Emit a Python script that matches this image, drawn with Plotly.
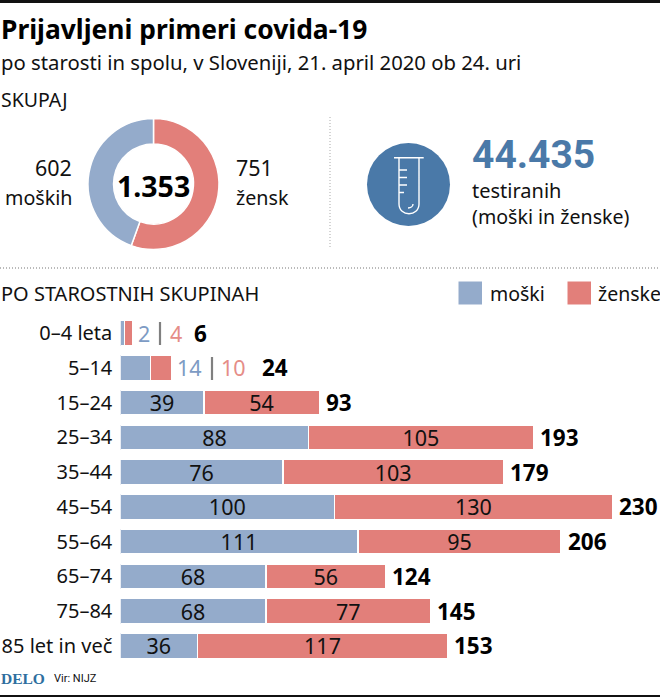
import plotly.graph_objects as go

W, H = 660, 697

age_groups = ["0–4 leta", "5–14", "15–24", "25–34", "35–44", "45–54", "55–64", "65–74", "75–84", "85 let in več"]
men = [2, 14, 39, 88, 76, 100, 111, 68, 68, 36]
women = [4, 10, 54, 105, 103, 130, 95, 56, 77, 117]
totals = [6, 24, 93, 193, 179, 230, 206, 124, 145, 153]
overall_labels = ["ženske", "moški"]
overall_values = [751, 602]
overall_total = "1.353"
tested_total = "44.435"

BLUE = "#94abcb"
RED = "#e27f7a"
DBLUE = "#4a79a8"
TXT_BLUE = "#7d9bc4"
TXT_RED = "#e58d88"
INK = "#111111"
F = "Noto Sans"
NARROW = "Roboto"


def px(x):
    return x / W


def py(y):
    return 1 - y / H


fig = go.Figure()
fig.add_trace(go.Bar(
    y=age_groups, x=men, orientation="h", name="moški",
    marker=dict(color=BLUE, line=dict(color="white", width=1.5)),
    text=[""] * 2 + [str(v) for v in men[2:]], textposition="inside", insidetextanchor="middle",
    textangle=0, constraintext="none", textfont=dict(family=F, size=21.5, color=INK), cliponaxis=False,
))
fig.add_trace(go.Bar(
    y=age_groups, x=women, orientation="h", name="ženske",
    marker=dict(color=RED, line=dict(color="white", width=1.5)),
    text=[""] * 2 + [str(v) for v in women[2:]], textposition="inside", insidetextanchor="middle",
    textangle=0, constraintext="none", textfont=dict(family=F, size=21.5, color=INK), cliponaxis=False,
))
fig.add_trace(go.Pie(
    labels=overall_labels, values=overall_values, sort=False, direction="clockwise", rotation=0,
    hole=0.61, textinfo="none", showlegend=False,
    marker=dict(colors=[RED, BLUE], line=dict(color="white", width=1.5)),
    domain=dict(x=[px(88), px(219)], y=[py(250), py(118)]),
))

annotations = []


def label(x, y, text, size=20, color=INK, anchor="left", family=F, bold=False):
    annotations.append(dict(
        x=px(x), y=py(y), xref="paper", yref="paper", showarrow=False, xanchor=anchor, yanchor="middle",
        text=f"<b>{text}</b>" if bold else text, font=dict(family=family, size=size, color=color),
        borderpad=0, align=anchor,
    ))


label(0, 29, "Prijavljeni primeri covida-19", 26.4, "#000000", bold=True)
label(0, 62, "po starosti in spolu, v Sloveniji, 21. april 2020 ob 24. uri", 20.3)
label(0, 99, "SKUPAJ", 19.5)
label(73, 168, "602", 21.5, anchor="right")
label(74, 197, "moških", 19.7, anchor="right")
label(235, 168, "751", 21.5)
label(235, 197, "žensk", 19.7)
label(153.5, 186, overall_total, 28.5, "#000000", anchor="center", bold=True)
label(471, 155, tested_total, 39, DBLUE, family=NARROW, bold=True)
label(471, 190, "testiranih", 20)
label(471, 217, "(moški in ženske)", 19.6)
label(0, 293, "PO STAROSTNIH SKUPINAH", 20)
label(489, 293, "moški", 19.5)
label(597, 293, "ženske", 19.5)
label(0, 678, "DELO", 15.5, "#2f6f9f", family="Liberation Serif", bold=True)
label(53, 678, "Vir: NIJZ", 11, family=NARROW)


def row_label(i, shift, text, color=INK, bold=False, size=21.5):
    annotations.append(dict(
        x=totals[i], y=age_groups[i], xref="x", yref="y", showarrow=False, xanchor="left", yanchor="middle",
        xshift=shift, text=f"<b>{text}</b>" if bold else text,
        font=dict(family=F, size=size, color=color),
    ))


for i in range(len(totals)):
    shift = {0: 59, 1: 88}.get(i, 4.5)
    row_label(i, shift, totals[i], "#000000", True, 22.5)
row_label(0, 3, men[0], TXT_BLUE)
row_label(0, 35, women[0], TXT_RED)
row_label(1, 3, men[1], TXT_BLUE)
row_label(1, 47, women[1], TXT_RED)


def rect(x0, x1, y0, y1, color):
    return dict(type="rect", xref="paper", yref="paper", x0=px(x0), x1=px(x1), y0=py(y1), y1=py(y0),
                fillcolor=color, line_width=0)


def line(x0, x1, y0, y1, color, width, dash="solid"):
    return dict(type="line", xref="paper", yref="paper", x0=px(x0), x1=px(x1), y0=py(y0), y1=py(y1),
                line=dict(color=color, width=width, dash=dash))


shapes = [
    rect(0, W, 0, 3, "#111111"),
    rect(0, W, 695, H, "#111111"),
    line(0, W, 268, 268, "#777777", 1.2, "1px 2px"),
    line(330, 330, 117, 249, "#aaaaaa", 1, "1px 2px"),
    rect(458.5, 482, 281.5, 304.5, BLUE),
    rect(567.5, 591, 281.5, 304.5, RED),
    line(160, 160, 322, 345, "#808080", 2.2),
    line(212, 212, 357, 380, "#808080", 2.2),
    dict(type="circle", xref="paper", yref="paper", x0=px(367), x1=px(450), y0=py(226), y1=py(143),
         fillcolor=DBLUE, line_width=0),
]


def pt(x, y):
    return f"{px(x):.5f},{py(y):.5f}"


tube = (
    f"M{pt(394, 157.7)} L{pt(423.7, 157.7)} M{pt(399, 157.7)} L{pt(399, 204)} "
    f"C{pt(399, 217)} {pt(419, 217)} {pt(419, 204)} L{pt(419, 157.7)} "
    f"M{pt(399, 170)} L{pt(407, 170)} M{pt(399, 177.5)} L{pt(407, 177.5)} "
    f"M{pt(399, 185)} L{pt(407, 185)} M{pt(399, 192.5)} L{pt(404, 192.5)} "
    f"M{pt(408, 208)} C{pt(411, 208)} {pt(413, 206)} {pt(413, 204)}"
)
shapes.append(dict(type="path", xref="paper", yref="paper", path=tube, line=dict(color="white", width=1.4)))

fig.update_layout(
    width=W, height=H, margin=dict(l=0, r=0, t=0, b=0), autosize=False,
    paper_bgcolor="white", plot_bgcolor="white", barmode="stack", bargap=0.28,
    showlegend=False, annotations=annotations, shapes=shapes,
    font=dict(family=F, color=INK),
    xaxis=dict(domain=[px(120.3), 1], range=[0, 539.7 / 2.14], visible=False, fixedrange=True),
    yaxis=dict(
        domain=[py(663.4), py(315.6)], categoryorder="array", categoryarray=age_groups, autorange="reversed",
        showline=False, showgrid=False, zeroline=False, ticks="", ticklabelstandoff=7,
        tickfont=dict(family=F, size=20, color=INK), fixedrange=True,
    ),
)
fig.write_html("out.html", config=dict(displayModeBar=False), post_script="document.body.style.margin='0';")
